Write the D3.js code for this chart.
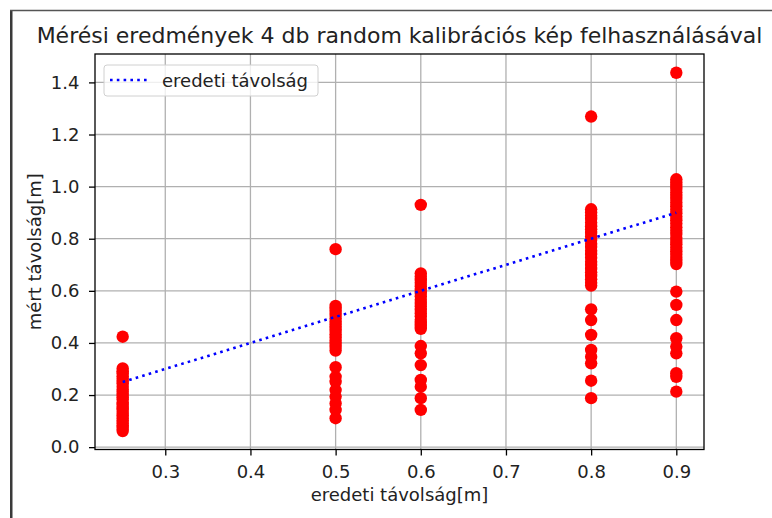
<html>
<head>
    <meta charset="utf-8">
    <style>
        body { margin: 0; background: #fff; }
        text { font-family: "DejaVu Sans", sans-serif; fill: #222; }
        .axis text { font-size: 18px; font-family: "DejaVu Sans", sans-serif; fill: #222; }
        .axis path, .axis line { stroke: #000; stroke-width: 1.3px; }
        .grid line { stroke: #b0b0b0; stroke-width: 1.3px; }
    </style>
    <script src="https://d3js.org/d3.v7.min.js"></script>
</head>
<body>
<svg width="772" height="518"></svg>
<script>
    // tick labels
    var xTicks = [0.3, 0.4, 0.5, 0.6, 0.7, 0.8, 0.9];
    var yTicks = [0.0, 0.2, 0.4, 0.6, 0.8, 1.0, 1.2, 1.4];

    // original distances (categories)
    var origDist = [0.25, 0.5, 0.6, 0.8, 0.9];

    // measured distances for each original distance
    var meas025 = [0.424, 0.302, 0.291, 0.284, 0.272, 0.263, 0.251, 0.244, 0.232, 0.221, 0.213, 0.201, 0.192,
                   0.183, 0.171, 0.162, 0.151, 0.143, 0.131, 0.122, 0.111, 0.102, 0.092, 0.083, 0.074, 0.062];
    var meas050 = [0.760, 0.542, 0.531, 0.519, 0.507, 0.494, 0.482, 0.471, 0.458, 0.446, 0.433, 0.421, 0.409,
                   0.396, 0.384, 0.371, 0.307, 0.270, 0.251, 0.219, 0.194, 0.168, 0.143, 0.111];
    var meas060 = [0.930, 0.667, 0.655, 0.642, 0.631, 0.618, 0.604, 0.592, 0.579, 0.566, 0.553, 0.541, 0.527,
                   0.514, 0.502, 0.489, 0.477, 0.465, 0.454, 0.388, 0.360, 0.315, 0.258, 0.232, 0.188, 0.143];
    var meas080 = [1.269, 0.913, 0.901, 0.889, 0.876, 0.862, 0.848, 0.836, 0.822, 0.809, 0.795, 0.781, 0.768,
                   0.754, 0.741, 0.727, 0.712, 0.699, 0.684, 0.671, 0.657, 0.644, 0.631, 0.620, 0.529, 0.488,
                   0.431, 0.373, 0.347, 0.322, 0.255, 0.188];
    var meas090 = [1.437, 1.028, 1.016, 1.003, 0.991, 0.978, 0.964, 0.952, 0.939, 0.925, 0.912, 0.898, 0.885,
                   0.871, 0.858, 0.844, 0.831, 0.818, 0.804, 0.791, 0.779, 0.766, 0.752, 0.740, 0.727, 0.715,
                   0.703, 0.597, 0.546, 0.488, 0.418, 0.386, 0.360, 0.284, 0.270, 0.213];

    var measured = [meas025, meas050, meas060, meas080, meas090];

    var svg = d3.select('svg');

    // screenshot frame (left and top edge)
    svg.append('rect').attr('x', 10).attr('y', 10).attr('width', 2.5).attr('height', 508).attr('fill', '#3a3a3a');
    svg.append('line').attr('x1', 10).attr('x2', 772).attr('y1', 10.5).attr('y2', 10.5)
        .attr('stroke', '#555').attr('stroke-width', 1.5);

    var plotL = 95, plotR = 704, plotT = 54, plotB = 449.5;
    var x = d3.scaleLinear().domain([0.2175, 0.9325]).range([plotL, plotR]);
    var y = d3.scaleLinear().domain([-0.009, 1.509]).range([plotB, plotT]);

    // grid
    var grid = svg.append('g').attr('class', 'grid');
    grid.selectAll('.gx').data(xTicks).enter().append('line')
        .attr('x1', function(d) { return x(d); }).attr('x2', function(d) { return x(d); })
        .attr('y1', plotT).attr('y2', plotB);
    grid.selectAll('.gy').data(yTicks).enter().append('line')
        .attr('y1', function(d) { return y(d); }).attr('y2', function(d) { return y(d); })
        .attr('x1', plotL).attr('x2', plotR);

    // points
    var pts = [];
    origDist.forEach(function(o, i) {
        measured[i].forEach(function(m) { pts.push({ o: o, m: m }); });
    });
    svg.append('g').selectAll('circle').data(pts).enter().append('circle')
        .attr('cx', function(d) { return x(d.o); })
        .attr('cy', function(d) { return y(d.m); })
        .attr('r', 6.2)
        .attr('fill', '#ff0000');

    // reference line (measured == original)
    var line = d3.line().x(function(d) { return x(d); }).y(function(d) { return y(d); });
    svg.append('path').datum(origDist)
        .attr('d', line)
        .attr('fill', 'none')
        .attr('stroke', '#0000ff')
        .attr('stroke-width', 2.6)
        .attr('stroke-dasharray', '2.6,4.2');

    // frame of axes
    svg.append('rect').attr('x', plotL).attr('y', plotT).attr('width', plotR - plotL).attr('height', plotB - plotT)
        .attr('fill', 'none').attr('stroke', '#000').attr('stroke-width', 1.3);

    // axes
    svg.append('g').attr('class', 'axis')
        .attr('transform', 'translate(0,' + plotB + ')')
        .call(d3.axisBottom(x).tickValues(xTicks).tickFormat(d3.format('.1f')).tickSize(6).tickPadding(9.5).tickSizeOuter(0))
        .select('.domain').remove();
    svg.append('g').attr('class', 'axis')
        .attr('transform', 'translate(' + plotL + ',0)')
        .call(d3.axisLeft(y).tickValues(yTicks).tickFormat(d3.format('.1f')).tickSize(6).tickPadding(9.5).tickSizeOuter(0))
        .select('.domain').remove();

    // title and labels
    svg.append('text').attr('x', (plotL + plotR) / 2).attr('y', 43)
        .attr('text-anchor', 'middle').style('font-size', '22px')
        .text('Mérési eredmények 4 db random kalibrációs kép felhasználásával');
    svg.append('text').attr('x', (plotL + plotR) / 2).attr('y', 501)
        .attr('text-anchor', 'middle').style('font-size', '18px')
        .text('eredeti távolság[m]');
    svg.append('text').attr('transform', 'translate(41,' + ((plotT + plotB) / 2) + ') rotate(-90)')
        .attr('text-anchor', 'middle').style('font-size', '18px')
        .text('mért távolság[m]');

    // legend
    var lg = svg.append('g');
    lg.append('rect').attr('x', 104).attr('y', 65).attr('width', 214).attr('height', 31).attr('rx', 3)
        .attr('fill', '#fff').attr('fill-opacity', 0.8).attr('stroke', '#d0d0d0').attr('stroke-width', 1);
    lg.append('line').attr('x1', 110).attr('x2', 147).attr('y1', 80).attr('y2', 80)
        .attr('stroke', '#0000ff').attr('stroke-width', 2.6).attr('stroke-dasharray', '2.6,4.2');
    lg.append('text').attr('x', 162).attr('y', 86.5).style('font-size', '18px').text('eredeti távolság');
</script>
</body>
</html>
